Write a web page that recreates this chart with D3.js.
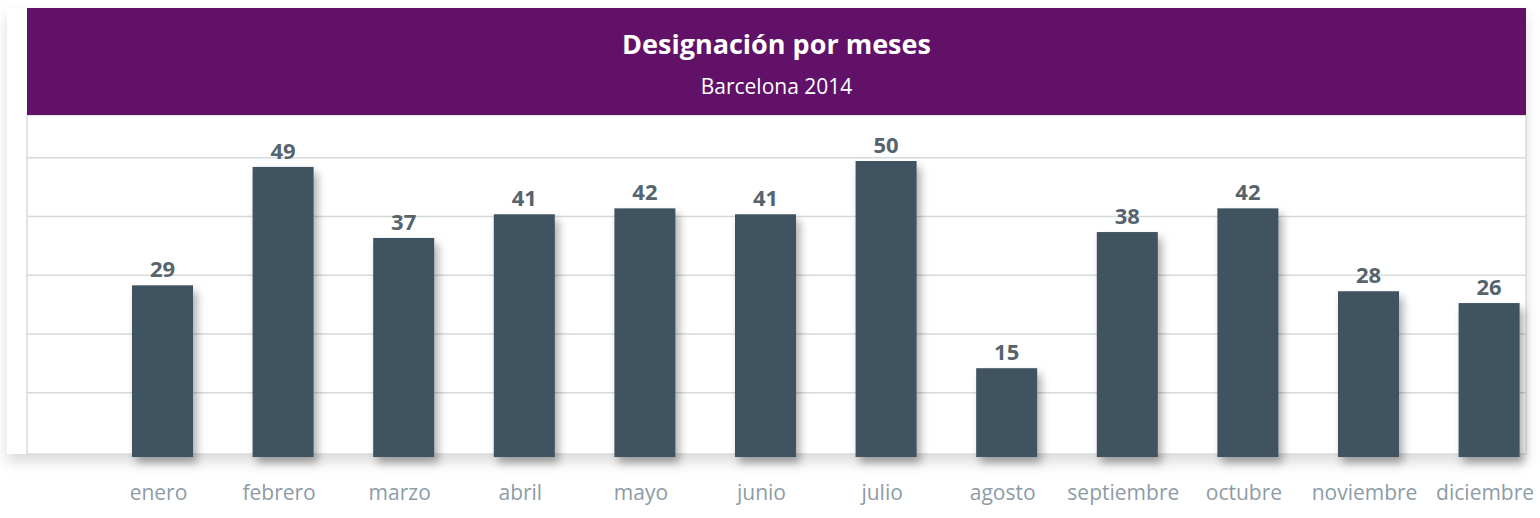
<!DOCTYPE html>
<html lang="es">
  <head>
    <meta charset="utf-8">
    <title>Designación por meses</title>
    <script src="https://cdn.jsdelivr.net/npm/d3@7"></script>
    <style>
      body { margin: 0; background: #fff; }
      svg { display: block; font-family: "Open Sans", sans-serif; }
    </style>
  </head>
  <body>
    <script>
    // datos
    var months = ["enero", "febrero", "marzo", "abril", "mayo", "junio", "julio",
                  "agosto", "septiembre", "octubre", "noviembre", "diciembre"];
    var values = [29, 49, 37, 41, 42, 41, 50, 15, 38, 42, 28, 26];
    var gridTicks = [10, 20, 30, 40, 50];
    var title = "Designación por meses";
    var subtitle = "Barcelona 2014";

    var w = 1540, h = 518;
    var panelLeft = 27, panelRight = 1526;
    var panelTop = 8, headerBottom = 115, panelBottom = 454;

    var svg = d3.select("body").append("svg")
      .attr("width", w)
      .attr("height", h);

    var defs = svg.append("defs");
    defs.append("filter")
        .attr("id", "barShadow")
        .attr("x", "-30%").attr("y", "-10%")
        .attr("width", "180%").attr("height", "140%")
      .append("feDropShadow")
        .attr("dx", 4).attr("dy", 6)
        .attr("stdDeviation", 4)
        .attr("flood-color", "#000")
        .attr("flood-opacity", 0.32);
    defs.append("filter")
        .attr("id", "panelShadow")
        .attr("x", "-5%").attr("y", "-10%")
        .attr("width", "110%").attr("height", "130%")
      .append("feDropShadow")
        .attr("dx", 0).attr("dy", 8)
        .attr("stdDeviation", 7)
        .attr("flood-color", "#000")
        .attr("flood-opacity", 0.14);

    // scales
    var x = d3.scaleBand()
      .domain(months)
      .range([102.2, 102.2 + 12 * 120.6])
      .paddingInner(0.494)
      .paddingOuter(0.247);

    var yBar = d3.scaleLinear()
      .domain([0, 50])
      .range([457, 161]);

    var yGrid = d3.scaleLinear()
      .domain([0, 50])
      .range([451.5, 157.7]);

    // panel background with soft shadow
    svg.append("rect")
      .attr("x", 7).attr("y", panelTop)
      .attr("width", panelRight - 7).attr("height", panelBottom - panelTop)
      .attr("fill", "#fff")
      .attr("filter", "url(#panelShadow)");

    svg.append("rect")
      .attr("x", panelLeft).attr("y", headerBottom)
      .attr("width", panelRight - panelLeft).attr("height", panelBottom - headerBottom)
      .attr("fill", "#fff")
      .attr("stroke", "#d6dcdc")
      .attr("stroke-width", 1.5);

    // gridlines
    svg.append("g")
      .selectAll("line")
      .data(gridTicks)
      .enter()
      .append("line")
      .attr("x1", panelLeft).attr("x2", panelRight)
      .attr("y1", function(d) { return yGrid(d); })
      .attr("y2", function(d) { return yGrid(d); })
      .attr("stroke", "#d3dbdb")
      .attr("stroke-width", 1.5);

    // header
    svg.append("rect")
      .attr("x", panelLeft).attr("y", panelTop)
      .attr("width", panelRight - panelLeft).attr("height", headerBottom - panelTop)
      .attr("fill", "#611268");

    var cx = (panelLeft + panelRight) / 2;
    svg.append("text")
      .attr("x", cx).attr("y", 54)
      .attr("text-anchor", "middle")
      .attr("fill", "#fff")
      .attr("font-size", 27)
      .attr("font-weight", "bold")
      .text(title);
    svg.append("text")
      .attr("x", cx).attr("y", 94)
      .attr("text-anchor", "middle")
      .attr("fill", "#fff")
      .attr("font-size", 21)
      .text(subtitle);

    // bars
    var data = months.map(function(m, i) { return { month: m, value: values[i] }; });

    svg.append("g")
      .selectAll("rect")
      .data(data)
      .enter()
      .append("rect")
      .attr("x", function(d) { return x(d.month); })
      .attr("y", function(d) { return yBar(d.value); })
      .attr("width", x.bandwidth())
      .attr("height", function(d) { return yBar(0) - yBar(d.value); })
      .attr("fill", "#415261")
      .attr("filter", "url(#barShadow)");

    // value labels
    svg.append("g")
      .selectAll("text")
      .data(data)
      .enter()
      .append("text")
      .attr("x", function(d) { return x(d.month) + x.bandwidth() / 2; })
      .attr("y", function(d) { return yBar(d.value) - 8; })
      .attr("text-anchor", "middle")
      .attr("fill", "#56646e")
      .attr("font-size", 22)
      .attr("font-weight", "bold")
      .text(function(d) { return d.value; });

    // month axis
    var xAxis = d3.axisBottom(x).tickSize(0).tickPadding(0);
    var axisG = svg.append("g")
      .attr("transform", "translate(-4, 500)")
      .call(xAxis);
    axisG.select(".domain").remove();
    axisG.selectAll("text")
      .attr("dy", 0)
      .attr("y", 0)
      .attr("fill", "#8d9ca6")
      .attr("font-size", 21)
      .attr("font-family", "Open Sans, sans-serif");
    </script>
  </body>
</html>
